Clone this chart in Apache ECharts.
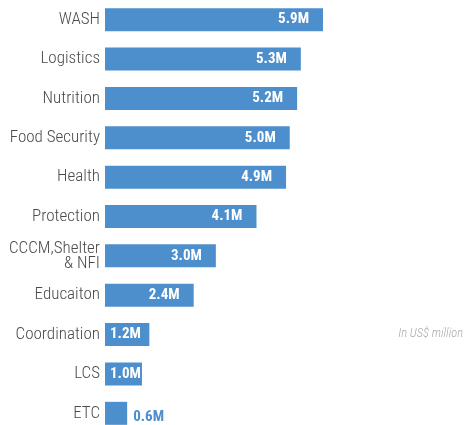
<!DOCTYPE html>
<html>
<head>
<meta charset="utf-8">
<script src="https://cdn.jsdelivr.net/npm/echarts@6/dist/echarts.min.js"></script>
<style>
  html, body { margin: 0; padding: 0; background: #fff; }
  #chart { width: 464px; height: 425px; }
</style>
</head>
<body>
<div id="chart"></div>
<script>
// funding per sector, in US$ million
const sectors = ['WASH', 'Logistics', 'Nutrition', 'Food Security', 'Health', 'Protection',
  'CCCM,Shelter\n& NFI', 'Educaiton', 'Coordination', 'LCS', 'ETC']
const amounts = [5.9, 5.3, 5.2, 5.0, 4.9, 4.1, 3.0, 2.4, 1.2, 1.0, 0.6]

const barColor = '#4d8fcd'
const condensed = '"Roboto Condensed", "Liberation Sans Narrow", "DejaVu Sans Condensed", Roboto, sans-serif'

const chart = echarts.init(document.getElementById('chart'))

// label inside on the right for long bars, inside left for short ones, outside for tiny
const seriesData = amounts.map(v => {
  let label
  if (v >= 2) {
    label = { position: 'insideRight', distance: 14 }
  } else if (v >= 1) {
    label = { position: 'insideLeft', distance: 5 }
  } else {
    label = { position: 'right', distance: 6, color: barColor, offset: [0, 4] }
  }
  return { value: v, label: label }
})

chart.setOption({
  animation: false,
  grid: {
    left: 105,
    top: 0,
    width: 369.5,
    height: 433,
    outerBoundsMode: 'none'
  },
  xAxis: {
    type: 'value',
    min: 0,
    max: 10,
    show: false
  },
  yAxis: {
    type: 'category',
    data: sectors,
    inverse: true,
    axisLine: { show: false },
    axisTick: { show: false },
    axisLabel: {
      margin: 5,
      color: '#4a4a4a',
      fontSize: 17,
      fontFamily: condensed,
      fontWeight: 300,
      lineHeight: 15
    }
  },
  series: [{
    type: 'bar',
    data: seriesData,
    barWidth: 23,
    itemStyle: { color: barColor },
    label: {
      show: true,
      color: '#fff',
      fontSize: 15,
      fontWeight: 'bold',
      fontFamily: condensed,
      formatter: p => p.value.toFixed(1) + 'M'
    }
  }],
  graphic: [{
    type: 'text',
    right: 1,
    top: 327,
    style: {
      text: 'In US$ million',
      fill: '#aaa',
      font: 'italic 300 12.5px ' + condensed
    }
  }]
})
</script>
</body>
</html>
